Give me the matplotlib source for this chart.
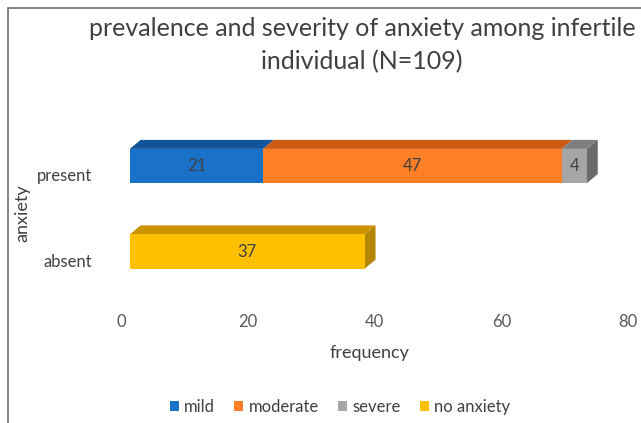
import numpy as np
import matplotlib.pyplot as plt
from matplotlib.patches import Polygon, Rectangle
from matplotlib.transforms import ScaledTranslation

plt.rcParams['font.family'] = ['Lato', 'DejaVu Sans']

# data
categories = ['absent', 'present']
series_names = ['mild', 'moderate', 'severe', 'no anxiety']
series_values = {
    'mild':       [0, 21],
    'moderate':   [0, 47],
    'severe':     [0, 4],
    'no anxiety': [37, 0],
}
tick_values = [0, 20, 40, 60, 80]

# front / top / side colours, excel style
front = {'mild': '#1a72c8', 'moderate': '#fe7f26', 'severe': '#a6a6a6', 'no anxiety': '#ffc000'}
top = {'mild': '#13559a', 'moderate': '#cc5b14', 'severe': '#7f7f7f', 'no anxiety': '#cc9400'}
side = {'mild': '#0f4580', 'moderate': '#a84a10', 'severe': '#6b6b6b', 'no anxiety': '#b58600'}

W, H = 641, 423
fig = plt.figure(figsize=(W / 100, H / 100), dpi=100)
ax = fig.add_axes([121.7 / W, 1 - 302.8 / H, 516 / W, 205.2 / H])
ax.set_xlim(0, 80)
ax.set_ylim(-0.6, 1.8)

px_x = 516 / 80     # pixels per unit, x
px_y = 205.2 / 2.4  # pixels per unit, y
bar_h = 0.4
dx = 11 / px_x      # 3d depth
dy = 9 / px_y

y = np.arange(len(categories))
left = np.zeros(len(categories))
last_end = {}
for name in series_names:
    vals = np.array(series_values[name], dtype=float)
    for i, v in enumerate(vals):
        if v == 0:
            continue
        x0, x1 = left[i], left[i] + v
        b, t = y[i] - bar_h / 2, y[i] + bar_h / 2
        ax.add_patch(Rectangle((x0, b), v, bar_h, facecolor=front[name], edgecolor='none', zorder=3))
        ax.add_patch(Polygon([(x0, t), (x1, t), (x1 + dx, t + dy), (x0 + dx, t + dy)],
                             closed=True, facecolor=top[name], edgecolor='none', zorder=2))
        ax.text((x0 + x1) / 2, y[i], f'{int(v)}', ha='center', va='center',
                fontsize=12, color='#404040', zorder=5)
        last_end[i] = (x1, b, t, name)
    left += vals

for i, (x1, b, t, name) in last_end.items():
    ax.add_patch(Polygon([(x1, b), (x1, t), (x1 + dx, t + dy), (x1 + dx, b + dy)],
                         closed=True, facecolor=side[name], edgecolor='none', zorder=2))

# tick labels sit a bit left of the bar scale (perspective floor)
tick_pos = [(6.43 * t - 8.2) / px_x for t in tick_values]
ax.set_xticks(tick_pos)
ax.set_xticklabels([str(t) for t in tick_values], fontsize=12, color='#595959')
ax.set_yticks(y)
ax.set_yticklabels(categories, fontsize=12, color='#404040')
ax.tick_params(axis='both', length=0)
ax.tick_params(axis='x', pad=8)
ax.tick_params(axis='y', pad=21)
off = ScaledTranslation(0, -0.085, fig.dpi_scale_trans)
for lab in ax.get_yticklabels():
    lab.set_transform(lab.get_transform() + off)
for s in ax.spines.values():
    s.set_visible(False)

fig.text(370 / W, 1 - 353 / H, 'frequency', ha='center', va='center', fontsize=13, color='#404040')
fig.text(22 / W, 1 - 213 / H, 'anxiety', ha='center', va='center', rotation=90,
         fontsize=13, color='#404040')
fig.text(362 / W, 1 - 45 / H, 'prevalence and severity of anxiety among infertile\nindividual (N=109)',
         ha='center', va='center', fontsize=18, color='#404040', linespacing=1.5)

handles = [Rectangle((0, 0), 1, 1, facecolor=front[n]) for n in series_names]
fig.legend(handles, series_names, loc='center', bbox_to_anchor=(340 / W, 1 - 407 / H),
           ncol=4, frameon=False, fontsize=12, handlelength=0.55, handleheight=0.55,
           handletextpad=0.3, columnspacing=1.15, labelcolor='#404040')

# chart frame (cropped on right and bottom)
fig.add_artist(Rectangle((8 / W, -0.1), 1.2, 1 - 8 / H + 0.1, transform=fig.transFigure,
                         fill=False, edgecolor='#707070', linewidth=1.2))

fig.savefig('out.png', dpi=100)
